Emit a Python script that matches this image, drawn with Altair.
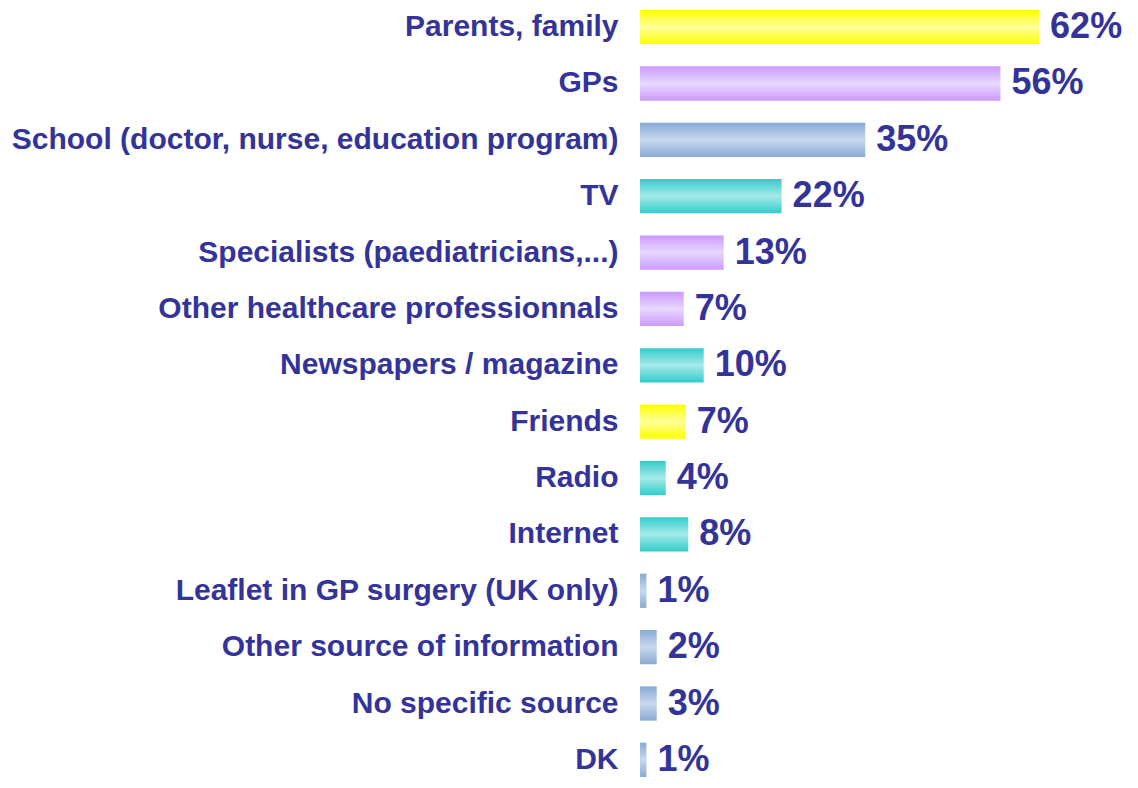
import altair as alt
import pandas as pd

categories = [
    "Parents, family",
    "GPs",
    "School (doctor, nurse, education program)",
    "TV",
    "Specialists (paediatricians,...)",
    "Other healthcare professionnals",
    "Newspapers / magazine",
    "Friends",
    "Radio",
    "Internet",
    "Leaflet in GP surgery (UK only)",
    "Other source of information",
    "No specific source",
    "DK",
]
percent_labels = [62, 56, 35, 22, 13, 7, 10, 7, 4, 8, 1, 2, 3, 1]
bar_lengths = [62, 56, 35, 22, 13, 6.8, 9.9, 7.1, 4, 7.5, 1, 2.6, 2.6, 1]
groups = ["yellow", "purple", "blue", "teal", "purple", "purple", "teal",
          "yellow", "teal", "teal", "blue", "blue", "blue", "blue"]

df = pd.DataFrame({
    "source": categories,
    "value": bar_lengths,
    "label": [f"{v}%" for v in percent_labels],
    "group": groups,
})

TEXT = "#333399"
palette = {
    "yellow": ("#FFFF00", "#FFFF99"),
    "purple": ("#CC99FF", "#E8D8FF"),
    "blue": ("#88AAD4", "#C8D8EE"),
    "teal": ("#33CCCC", "#A5EAE8"),
}

y_enc = alt.Y(
    "source:N",
    sort=categories,
    title=None,
    scale=alt.Scale(range=[0, 767], paddingInner=0.392, paddingOuter=0),
    axis=alt.Axis(
        ticks=False, domain=False, labelPadding=22, labelLimit=800,
        labelFont="Liberation Sans", labelFontSize=30, labelFontWeight="bold",
        labelColor=TEXT,
    ),
)
x_enc = alt.X("value:Q", scale=alt.Scale(domain=[0, 75.5]), axis=None)

base = alt.Chart(df)
layers = []
for g, (edge, mid) in palette.items():
    grad = alt.Gradient(
        gradient="linear",
        stops=[
            alt.GradientStop(color=edge, offset=0),
            alt.GradientStop(color=mid, offset=0.5),
            alt.GradientStop(color=edge, offset=1),
        ],
        x1=0, x2=0, y1=0, y2=1,
    )
    layers.append(
        base.transform_filter(alt.datum.group == g)
        .mark_bar(color=grad)
        .encode(x=x_enc, y=y_enc)
    )

text = base.mark_text(
    align="left", baseline="middle", dx=11, font="Liberation Sans",
    fontSize=36, fontWeight="bold", color=TEXT,
).encode(x=x_enc, y=y_enc, text="label:N")

chart = alt.layer(*layers, text).properties(
    width=486,
    height=770,
    autosize=alt.AutoSizeParams(type="none"),
    padding={"left": 632, "top": 2, "right": 4, "bottom": 0},
).configure_view(stroke=None)

chart.save("out.html", embed_options={"renderer": "svg", "actions": False})
